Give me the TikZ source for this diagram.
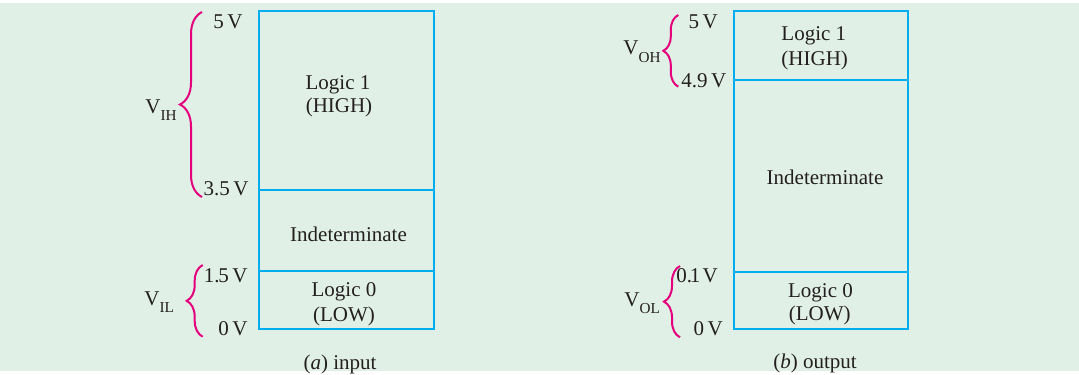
\documentclass[tikz,border=0pt]{standalone}
\usepackage{fontspec}
\setmainfont{Liberation Serif}
\usetikzlibrary{decorations.pathreplacing}
\definecolor{bgc}{RGB}{225,240,230}
\definecolor{zonec}{RGB}{0,174,239}
\definecolor{bracec}{RGB}{228,0,124}
\definecolor{inkc}{RGB}{35,31,32}
\newcommand{\lowsub}[1]{\raisebox{-3.6pt}{\fontsize{7.6}{8}\selectfont #1}}
\begin{document}
\begin{tikzpicture}[x=0.5pt,y=-0.5pt,
  zonebox/.style={draw=zonec,line width=1pt},
  lbl/.style={font=\fontsize{10.5}{11.7}\selectfont, text=inkc, inner sep=0pt, anchor=base},
  val/.style={lbl, anchor=base east},
  vname/.style={lbl, anchor=base west},
  bracepath/.style={draw=bracec, line width=1pt, decorate, decoration={brace, amplitude=#1}}]
\useasboundingbox (0,0) rectangle (1079,374);
\fill[bgc] (0,3) rectangle (1079,371);

% ---- (a) input ----
\draw[zonebox] (259,11) rectangle (434,329);
\draw[zonebox] (259,190) -- (434,190);
\draw[zonebox] (259,271) -- (434,271);
\node[lbl] (a1a) at (338,89.3) {Logic 1};
\node[lbl] (a1b) at (339,112.7) {(HIGH)};
\node[lbl] (aind) at (348.5,241) {Indeterminate};
\node[lbl] (a0a) at (344,296.7) {Logic 0};
\node[lbl] (a0b) at (344,321.7) {(LOW)};
\node[lbl] (acap) at (340,369.3) {(\textit{a}) input};

\node[val] (a5) at (243,28.3) {5\,V};
\node[val] (a35) at (249,195) {3.5\,V};
\node[val] (a15) at (248,282.7) {1.\kern-0.6pt5\,V};
\node[val] (a0) at (248,335) {0\,V};

\coordinate (aihb) at (202,197);
\coordinate (aiht) at (202,12);
\draw[bracepath=11pt] (aihb) -- (aiht);
\node[vname] (vih) at (145,113.3) {V\lowsub{IH}};
\coordinate (ailb) at (202.7,336.7);
\coordinate (ailt) at (202.7,265);
\draw[bracepath=8pt] (ailb) -- (ailt);
\node[vname] (vil) at (144,305) {V\lowsub{IL}};

% ---- (b) output ----
\draw[zonebox] (734,11) rectangle (908,329);
\draw[zonebox] (734,80) -- (908,80);
\draw[zonebox] (734,272) -- (908,272);
\node[lbl] (b1a) at (813.8,41) {Logic 1};
\node[lbl] (b1b) at (814.7,65.7) {(HIGH)};
\node[lbl] (bind) at (825,184.3) {Indeterminate};
\node[lbl] (b0a) at (820.5,297.7) {Logic 0};
\node[lbl] (b0b) at (819.8,320) {(LOW)};
\node[lbl] (bcap) at (815,368.3) {(\textit{b}) output};

\node[val] (b5) at (718.3,28.3) {5\,V};
\node[val] (b49) at (726.7,87.3) {4.9\,V};
\node[val] (b01) at (718.3,282.7) {0.\kern-1.2pt1\kern-0.5pt\,V};
\node[val] (b0) at (723.3,335) {0\,V};

\coordinate (bohb) at (678.3,86.7);
\coordinate (boht) at (678.3,15);
\draw[bracepath=7.5pt] (bohb) -- (boht);
\node[vname] (voh) at (623,55) {V\lowsub{OH}};
\coordinate (bolb) at (680,337.3);
\coordinate (bolt) at (680,266);
\draw[bracepath=8pt] (bolb) -- (bolt);
\node[vname] (vol) at (624,306) {V\lowsub{OL}};
\end{tikzpicture}
\end{document}
